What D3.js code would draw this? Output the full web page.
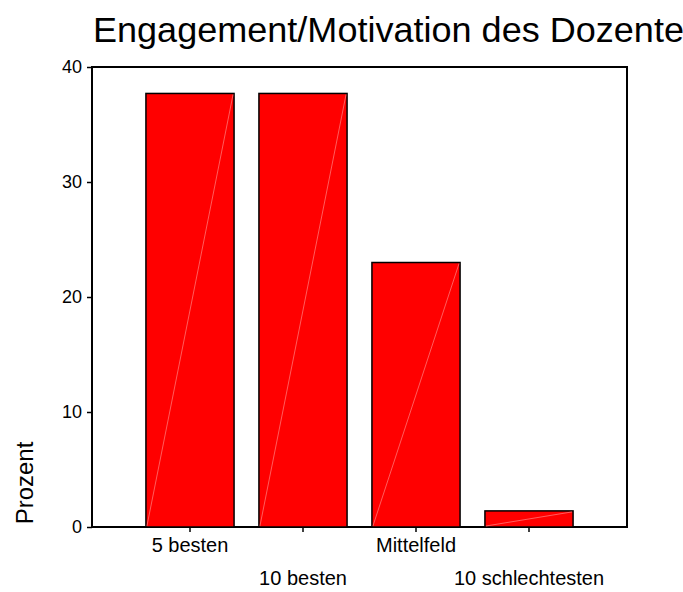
<!DOCTYPE html>
<html>
<head>
<meta charset="utf-8">
<script src="https://cdn.jsdelivr.net/npm/d3@7/dist/d3.min.js"></script>
<style>
  body { margin: 0; background: #fff; }
  svg { font-family: "Liberation Sans", Arial, sans-serif; }
</style>
</head>
<body>
<svg id="chart" width="683" height="592"></svg>
<script>
// data
var categories = ["5 besten", "10 besten", "Mittelfeld", "10 schlechtesten"];
var values = [37.7, 37.7, 23.0, 1.4];
var yTicks = [0, 10, 20, 30, 40];
var title = "Engagement/Motivation des Dozenten";
var yLabel = "Prozent";

var dataset = categories.map(function(c, i){ return {cat: c, pv: values[i]}; });

var svg = d3.select("#chart");
var frame = {left: 92, right: 627, top: 67, bottom: 527};

var xScale = d3.scaleBand()
	.domain(categories)
	.range([frame.left + 41.5, frame.right - 41.5])
	.paddingInner(0.22)
	.paddingOuter(0.11);

var yScale = d3.scaleLinear()
	.domain([0, 40])
	.range([frame.bottom, frame.top]);

// frame
svg.append("rect")
	.attr("x", frame.left)
	.attr("y", frame.top)
	.attr("width", frame.right - frame.left)
	.attr("height", frame.bottom - frame.top)
	.style("fill", "#FFF")
	.style("stroke", "#000")
	.style("stroke-width", 2);

// bars
svg.append("g")
	.attr("id", "bars")
	.selectAll("rect")
	.data(dataset)
	.enter()
	.append("rect")
	.attr("x", function(d){ return xScale(d.cat); })
	.attr("y", function(d){ return yScale(d.pv); })
	.attr("width", xScale.bandwidth())
	.attr("height", function(d){ return yScale(0) - yScale(d.pv); })
	.style("fill", "#FF0000")
	.style("stroke", "#000")
	.style("stroke-width", 1.5);

// faint diagonal in each bar
svg.append("g")
	.selectAll("line")
	.data(dataset)
	.enter()
	.append("line")
	.attr("x1", function(d){ return xScale(d.cat) + 1; })
	.attr("y1", yScale(0) - 1)
	.attr("x2", function(d){ return xScale(d.cat) + xScale.bandwidth() - 1; })
	.attr("y2", function(d){ return yScale(d.pv) + 1; })
	.style("stroke", "#ff9a9a")
	.style("stroke-width", 0.6);

// y axis
var yAxis = d3.axisLeft(yScale)
	.tickValues(yTicks)
	.tickSize(5)
	.tickPadding(5);
var gy = svg.append("g")
	.attr("transform", "translate(" + frame.left + ",0)")
	.call(yAxis);
gy.select(".domain").remove();
gy.selectAll("line").style("stroke", "#000").style("stroke-width", 1.5);
gy.selectAll("text")
	.style("font-size", "18px")
	.style("font-family", "Liberation Sans, Arial, sans-serif")
	.attr("fill", "#000");

// x axis
var xAxis = d3.axisBottom(xScale)
	.tickSize(5)
	.tickPadding(6);
var gx = svg.append("g")
	.attr("transform", "translate(0," + frame.bottom + ")")
	.call(xAxis);
gx.select(".domain").remove();
gx.selectAll("line").style("stroke", "#000").style("stroke-width", 1.5);
gx.selectAll("text")
	.style("font-size", "20px")
	.style("font-family", "Liberation Sans, Arial, sans-serif")
	.attr("fill", "#000")
	.attr("dy", function(d, i){ return i % 2 === 0 ? "0.71em" : "2.35em"; });

// titles (the original is cut at the right edge as well)
svg.append("text")
	.attr("transform", "translate(93,42) scale(1.03,1)")
	.style("font-size", "35px")
	.attr("fill", "#000")
	.text(title);

svg.append("text")
	.attr("transform", "translate(33,483) rotate(-90)")
	.attr("text-anchor", "middle")
	.style("font-size", "24px")
	.attr("fill", "#000")
	.text(yLabel);
</script>
</body>
</html>
